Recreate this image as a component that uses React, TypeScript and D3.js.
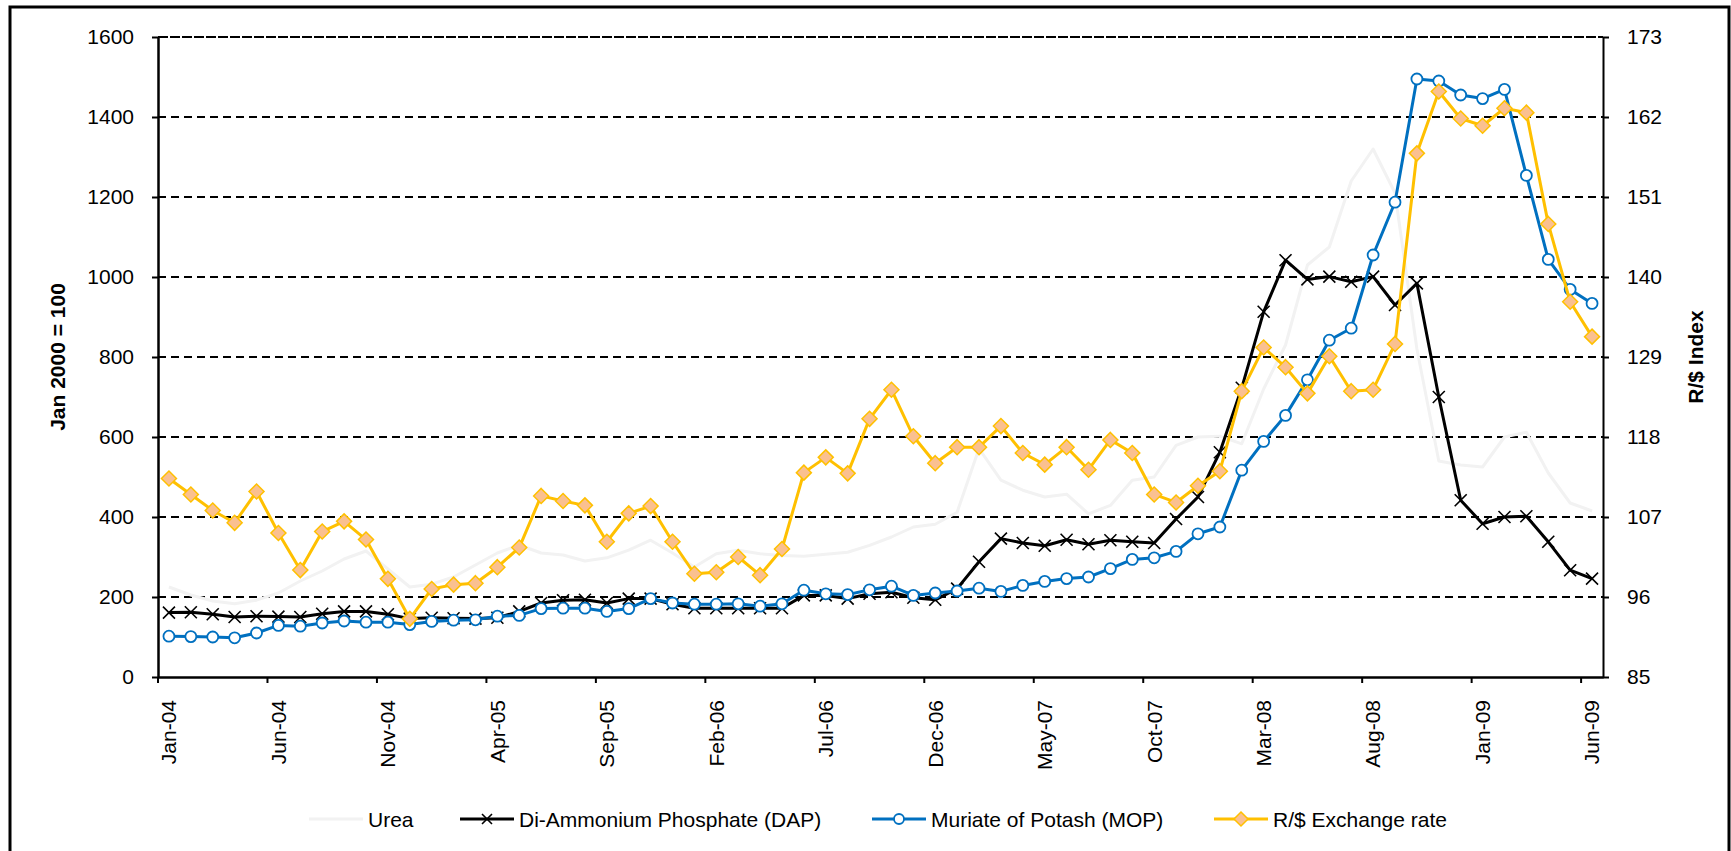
import React, { useEffect, useRef } from 'react'
import * as d3 from 'd3'

const months = [
  "Jan-04","Feb-04","Mar-04","Apr-04","May-04","Jun-04","Jul-04","Aug-04","Sep-04","Oct-04","Nov-04","Dec-04",
  "Jan-05","Feb-05","Mar-05","Apr-05","May-05","Jun-05","Jul-05","Aug-05","Sep-05","Oct-05","Nov-05","Dec-05",
  "Jan-06","Feb-06","Mar-06","Apr-06","May-06","Jun-06","Jul-06","Aug-06","Sep-06","Oct-06","Nov-06","Dec-06",
  "Jan-07","Feb-07","Mar-07","Apr-07","May-07","Jun-07","Jul-07","Aug-07","Sep-07","Oct-07","Nov-07","Dec-07",
  "Jan-08","Feb-08","Mar-08","Apr-08","May-08","Jun-08","Jul-08","Aug-08","Sep-08","Oct-08","Nov-08","Dec-08",
  "Jan-09","Feb-09","Mar-09","Apr-09","May-09","Jun-09"
]
const tickMonths = ["Jan-04","Jun-04","Nov-04","Apr-05","Sep-05","Feb-06","Jul-06","Dec-06","May-07","Oct-07","Mar-08","Aug-08","Jan-09","Jun-09"]

// left axis (Jan 2000 = 100)
const urea = [
  225,205,190,183,192,210,240,265,295,315,270,225,232,250,280,310,330,310,305,290,
  298,317,342,310,275,308,317,308,304,302,307,312,329,350,375,382,412,571,492,467,450,457,408,429,492,500,579,
  600,602,583,720,830,1030,1075,1240,1320,1210,820,540,530,525,600,612,510,435,415
]
const dap = [
  161,162,157,150,152,151,150,158,164,164,157,146,148,147,146,148,164,185,192,193,
  185,196,196,182,172,172,172,172,172,204,204,196,208,212,198,193,221,288,346,335,328,343,332,342,338,335,395,
  450,562,723,913,1042,994,1001,988,1001,930,984,700,442,383,400,402,338,267,246
]
const mop = [
  102,101,100,98,110,129,127,135,140,137,137,131,139,142,143,152,154,171,172,172,
  164,171,196,185,182,182,183,177,183,217,208,206,218,227,204,210,215,222,214,229,239,246,250,271,294,298,314,
  358,375,517,589,654,743,842,872,1055,1187,1495,1490,1455,1446,1469,1254,1044,969,934
]
// right axis (R/$ index)
const randDollar = [
  112.3,110.1,107.9,106.2,110.5,104.8,99.7,105.0,106.4,103.9,98.5,93.0,97.1,97.7,97.9,100.1,102.8,109.9,109.2,108.6,
  103.6,107.5,108.5,103.6,99.2,99.4,101.5,99.0,102.6,113.1,115.2,113.0,120.5,124.5,118.1,114.4,116.6,116.6,119.5,115.8,114.2,116.6,113.5,117.6,115.8,110.1,109.0,
  111.3,113.3,124.3,130.3,127.6,124.0,129.1,124.3,124.5,130.8,157.0,165.5,161.8,160.8,163.2,162.6,147.3,136.6,131.8
]
const leftTicks = [0, 200, 400, 600, 800, 1000, 1200, 1400, 1600]
const rightTicks = [85, 96, 107, 118, 129, 140, 151, 162, 173]

const font = "'Liberation Sans', Arial, sans-serif"

export default function App() {
  const ref = useRef<SVGSVGElement>(null)

  useEffect(() => {
    drawchart()
  }, [])

  const drawchart = () => {
    const svg = d3.select(ref.current)
    svg.selectAll("*").remove()

    const left = 158, right = 1603, top = 37, bottom = 677

    const x = d3.scaleBand().domain(months).range([left, right]).padding(0)
    const yL = d3.scaleLinear().domain([0, 1600]).range([bottom, top])
    const yR = d3.scaleLinear().domain([85, 173]).range([bottom, top])
    const cx = (d: string) => (x(d) as number) + x.bandwidth() / 2

    svg.append("rect").attr("width", 1731).attr("height", 851).attr("fill", "#fff")
    svg.append("rect")
      .attr("x", 10).attr("y", 7).attr("width", 1719).attr("height", 900)
      .attr("fill", "none").attr("stroke", "#000").attr("stroke-width", 3)

    // gridlines
    svg.append("g").selectAll("line")
      .data(leftTicks.slice(1))
      .join("line")
      .attr("x1", left).attr("x2", right)
      .attr("y1", d => yL(d)).attr("y2", d => yL(d))
      .attr("stroke", "#000").attr("stroke-width", 2)
      .attr("stroke-dasharray", d => d === 1600 ? "10,2" : "8,5")

    // left axis
    const gl = svg.append("g")
      .attr("transform", `translate(${left},0)`)
      .call(d3.axisLeft(yL).tickValues(leftTicks).tickFormat(d3.format("d")).tickSize(6).tickSizeOuter(0).tickPadding(18))
      .attr("font-size", 21).attr("font-family", font)
    gl.select(".domain").attr("stroke-width", 2.5)
    gl.selectAll(".tick line").attr("stroke-width", 2)
    gl.selectAll("text").attr("fill", "#000")

    // right axis
    const gr = svg.append("g")
      .attr("transform", `translate(${right},0)`)
      .call(d3.axisRight(yR).tickValues(rightTicks).tickFormat(d3.format("d")).tickSize(6).tickSizeOuter(0).tickPadding(18))
      .attr("font-size", 21).attr("font-family", font)
    gr.select(".domain").attr("stroke-width", 2)
    gr.selectAll(".tick line").attr("stroke-width", 2)
    gr.selectAll("text").attr("fill", "#000")

    // bottom axis, labels at category centres
    const gb = svg.append("g")
      .attr("transform", `translate(0,${bottom})`)
      .call(d3.axisBottom(x).tickValues(tickMonths).tickSize(0).tickSizeOuter(0))
      .attr("font-size", 21).attr("font-family", font)
    gb.select(".domain").attr("stroke-width", 2.5)
    gb.selectAll("text")
      .attr("fill", "#000")
      .attr("transform", "rotate(-90)")
      .attr("x", -23).attr("y", 0).attr("dy", "0.35em")
      .attr("text-anchor", "end")
    // tick marks between categories
    svg.append("g").selectAll("line")
      .data(tickMonths)
      .join("line")
      .attr("x1", d => x(d) as number).attr("x2", d => x(d) as number)
      .attr("y1", bottom).attr("y2", bottom + 6)
      .attr("stroke", "#000").attr("stroke-width", 2)

    // axis titles
    svg.append("text")
      .attr("transform", `translate(57,${(top + bottom) / 2}) rotate(-90)`)
      .attr("text-anchor", "middle").attr("dominant-baseline", "central")
      .attr("font-family", font).attr("font-size", 21).attr("font-weight", "bold")
      .text("Jan 2000 = 100")
    svg.append("text")
      .attr("transform", `translate(1695,${(top + bottom) / 2}) rotate(-90)`)
      .attr("text-anchor", "middle").attr("dominant-baseline", "central")
      .attr("font-family", font).attr("font-size", 21).attr("font-weight", "bold")
      .text("R/$ Index")

    const lineL = d3.line<number>().x((d, i) => cx(months[i])).y(d => yL(d))
    const lineR = d3.line<number>().x((d, i) => cx(months[i])).y(d => yR(d))

    const crossPath = "M-6,-6L6,6M-6,6L6,-6"
    const diamondPath = "M0,-7.5L7.5,0L0,7.5L-7.5,0Z"

    // Urea
    svg.append("path").datum(urea).attr("d", lineL)
      .attr("fill", "none").attr("stroke", "#f2f2f2").attr("stroke-width", 3).attr("stroke-linejoin", "round")

    // DAP
    svg.append("path").datum(dap).attr("d", lineL)
      .attr("fill", "none").attr("stroke", "#000").attr("stroke-width", 3).attr("stroke-linejoin", "round")
    svg.append("g").selectAll("path")
      .data(dap)
      .join("path")
      .attr("transform", (d, i) => `translate(${cx(months[i])},${yL(d)})`)
      .attr("d", crossPath)
      .attr("stroke", "#000").attr("stroke-width", 1.6)

    // MOP
    svg.append("path").datum(mop).attr("d", lineL)
      .attr("fill", "none").attr("stroke", "#0070c0").attr("stroke-width", 3).attr("stroke-linejoin", "round")
    svg.append("g").selectAll("circle")
      .data(mop)
      .join("circle")
      .attr("cx", (d, i) => cx(months[i])).attr("cy", d => yL(d)).attr("r", 5.5)
      .attr("fill", "#fff").attr("stroke", "#0070c0").attr("stroke-width", 1.8)

    // R/$
    svg.append("path").datum(randDollar).attr("d", lineR)
      .attr("fill", "none").attr("stroke", "#ffc000").attr("stroke-width", 3).attr("stroke-linejoin", "round")
    svg.append("g").selectAll("path")
      .data(randDollar)
      .join("path")
      .attr("transform", (d, i) => `translate(${cx(months[i])},${yR(d)})`)
      .attr("d", diamondPath)
      .attr("fill", "#fac090").attr("stroke", "#ffc000").attr("stroke-width", 1.5)

    // legend
    const ly = 819
    const legend = [
      { name: "Urea", color: "#f2f2f2", x0: 309, marker: "none" },
      { name: "Di-Ammonium Phosphate (DAP)", color: "#000", x0: 460, marker: "cross" },
      { name: "Muriate of Potash (MOP)", color: "#0070c0", x0: 872, marker: "circle" },
      { name: "R/$ Exchange rate", color: "#ffc000", x0: 1214, marker: "diamond" }
    ]
    const lg = svg.append("g").selectAll("g").data(legend).join("g")
      .attr("transform", d => `translate(${d.x0},${ly})`)
    lg.append("line").attr("x1", 0).attr("x2", 54).attr("y1", 0).attr("y2", 0)
      .attr("stroke", d => d.color).attr("stroke-width", 3)
    lg.filter(d => d.marker === "cross").append("path")
      .attr("transform", "translate(27,0)").attr("d", "M-5,-5L5,5M-5,5L5,-5")
      .attr("stroke", "#000").attr("stroke-width", 1.6)
    lg.filter(d => d.marker === "circle").append("circle")
      .attr("cx", 27).attr("r", 5).attr("fill", "#fff").attr("stroke", "#0070c0").attr("stroke-width", 1.8)
    lg.filter(d => d.marker === "diamond").append("path")
      .attr("transform", "translate(27,0)").attr("d", "M0,-7L7,0L0,7L-7,0Z")
      .attr("fill", "#fac090").attr("stroke", "#ffc000").attr("stroke-width", 1.5)
    lg.append("text")
      .attr("x", 59).attr("y", 0).attr("dominant-baseline", "central")
      .attr("font-family", font).attr("font-size", 21).attr("fill", "#000")
      .text(d => d.name)
  }

  return (
    <svg ref={ref} width={1731} height={851} style={{ position: 'absolute', left: 0, top: 0 }} />
  )
}
